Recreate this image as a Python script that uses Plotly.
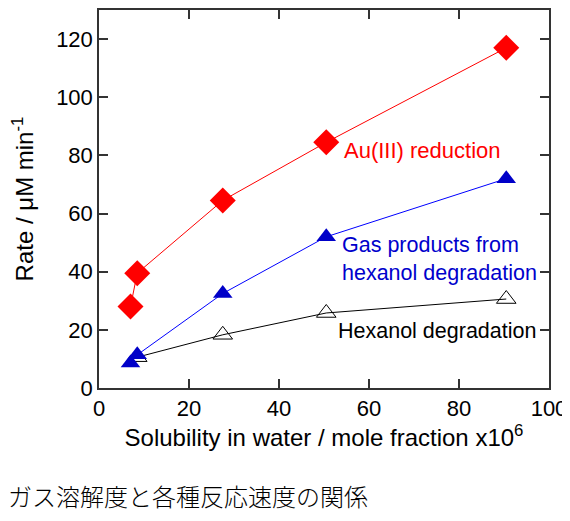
import plotly.graph_objects as go

# Data
x_au = [7.0, 8.5, 27.5, 50.5, 90.5]
y_au = [28.0, 39.5, 64.5, 84.5, 117.0]

x_gas = [7.0, 8.5, 27.5, 50.5, 90.5]
y_gas = [8.6, 11.4, 32.5, 52.0, 72.0]

x_hex = [8.5, 27.5, 50.5, 90.5]
y_hex = [10.6, 18.3, 25.8, 30.6]

x_ticks = [0, 20, 40, 60, 80, 100]
y_ticks = [0, 20, 40, 60, 80, 100, 120]

FONT = "Arial, Liberation Sans, sans-serif"
FS = 22

# page is offset by the default 8px body margin
OFF = 8
W, H = 570 - OFF, 521 - OFF
# plot area in page pixels (for placing free text)
L, R, T, B = 99, 549, 10, 388


def px(xp):
    return (xp - L) / (R - L)


def py(yp):
    return (B - yp) / (B - T)


fig = go.Figure()
fig.add_trace(go.Scatter(
    x=x_hex, y=y_hex, mode="lines+markers",
    line=dict(color="#000000", width=1),
    marker=dict(symbol="triangle-up-open", size=17, color="#000000", line=dict(width=1)),
    showlegend=False))
fig.add_trace(go.Scatter(
    x=x_gas, y=y_gas, mode="lines+markers",
    line=dict(color="#0000ff", width=1),
    marker=dict(symbol="triangle-up", size=17, color="#0000c8"),
    showlegend=False))
fig.add_trace(go.Scatter(
    x=x_au, y=y_au, mode="lines+markers",
    line=dict(color="#ff0000", width=1),
    marker=dict(symbol="diamond", size=20, color="#ff0000"),
    showlegend=False))

axis_common = dict(
    showline=True, linecolor="#333333", linewidth=1.5, mirror="ticks",
    ticks="inside", ticklen=9, tickwidth=1.5, tickcolor="#333333",
    showgrid=False, zeroline=False, automargin=False,
    tickfont=dict(family=FONT, size=FS, color="#000000"),
)

fig.update_xaxes(range=[0, 100], tickvals=x_ticks, **axis_common,
                 title=dict(text="Solubility in water / mole fraction x10<sup>6</sup>",
                            font=dict(family=FONT, size=24, color="#000000"), standoff=0))
fig.update_yaxes(range=[0, 130], tickvals=y_ticks, **axis_common,
                 title=dict(text="Rate / \u03bcM min<sup>-1</sup>",
                            font=dict(family=FONT, size=24, color="#000000"), standoff=17))

fig.add_annotation(x=px(342), y=py(150), xref="paper", yref="paper", text="Au(III) reduction",
                   showarrow=False, xanchor="left", yanchor="middle",
                   font=dict(family=FONT, size=FS, color="#ff0000"))
fig.add_annotation(x=px(340), y=py(259), xref="paper", yref="paper",
                   text="Gas products from<br>hexanol degradation",
                   showarrow=False, xanchor="left", yanchor="middle", align="left",
                   font=dict(family=FONT, size=21.5, color="#0000cc"))
fig.add_annotation(x=px(336), y=py(331), xref="paper", yref="paper",
                   text="Hexanol degradation",
                   showarrow=False, xanchor="left", yanchor="middle",
                   font=dict(family=FONT, size=21.5, color="#000000"))
fig.add_annotation(x=px(6), y=py(496), xref="paper", yref="paper",
                   text="ガス溶解度と各種反応速度の関係",
                   showarrow=False, xanchor="left", yanchor="middle",
                   font=dict(family="Noto Sans CJK JP, sans-serif", size=24,
                             weight=300, color="#000000"))

fig.update_layout(
    width=W, height=H,
    margin=dict(l=L - OFF, r=570 - R, t=T - OFF, b=521 - B, autoexpand=False),
    paper_bgcolor="white", plot_bgcolor="white",
)
fig.write_html("out.html")
